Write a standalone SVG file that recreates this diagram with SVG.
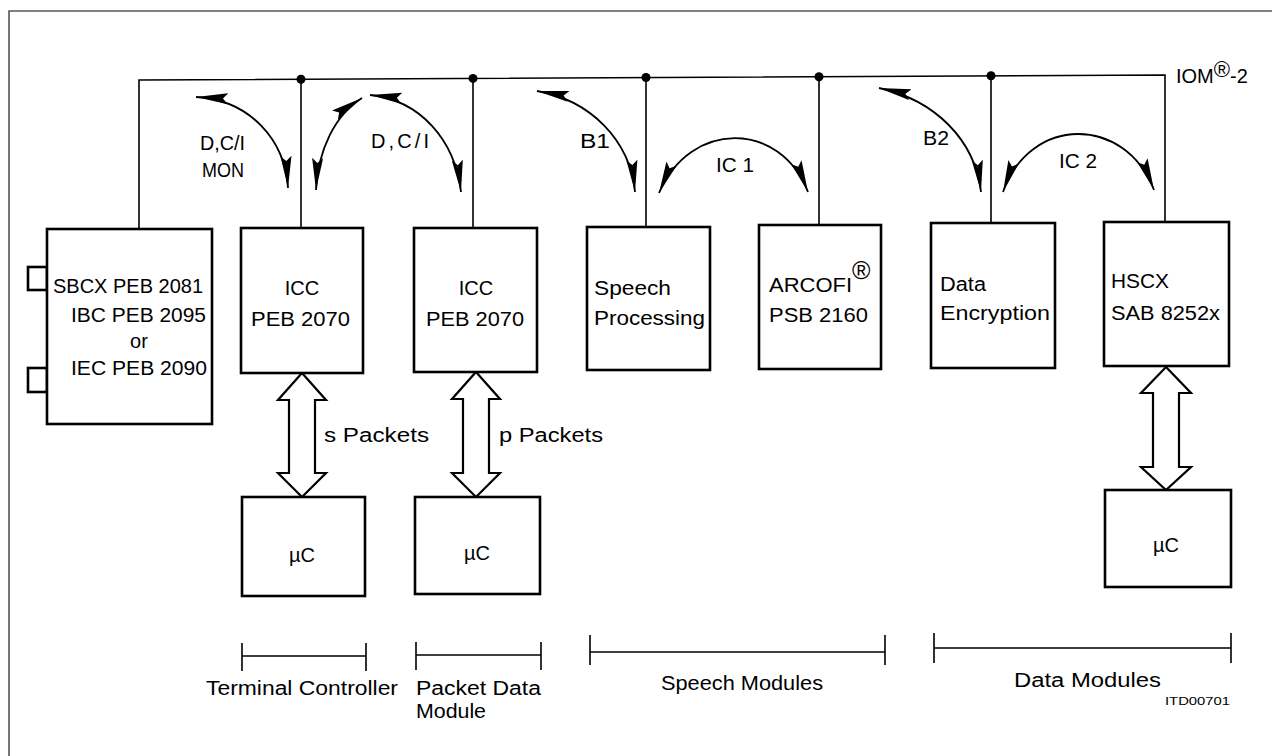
<svg xmlns="http://www.w3.org/2000/svg" width="1272" height="756" viewBox="0 0 1272 756">
<style>
.box{fill:#fff;stroke:#000;stroke-width:2.6}
.ln{fill:none;stroke:#000;stroke-width:1.6}
.arc{fill:none;stroke:#000;stroke-width:1.8;marker-start:url(#ah);marker-end:url(#ah)}
.hol{fill:#fff;stroke:#000;stroke-width:2.2;stroke-linejoin:miter}
.t{font-family:"Liberation Sans","DejaVu Sans",sans-serif;font-size:20px;fill:#000}
.s{font-family:"Liberation Sans","DejaVu Sans",sans-serif;font-size:11px;fill:#000}
.frame{fill:none;stroke:#555;stroke-width:1.6}
</style>
<defs>
<marker id="ah" markerUnits="userSpaceOnUse" viewBox="-32 -6 33 12" refX="0" refY="0" markerWidth="33" markerHeight="12" orient="auto-start-reverse">
<path d="M0,0 L-32,-5.5 L-27,0 L-32,5.5 Z" fill="#000"/>
</marker>
</defs>
<rect width="1272" height="756" fill="#fff"/>
<path class="frame" d="M9,756 V11 H1272"/>

<g id="connectors">
<path class="ln" d="M139,228 V80 L1165,75 V222"/>
<path class="ln" d="M301,79.2 V228 M473,78.4 V228 M646,77.5 V227 M819,76.7 V225 M991,75.8 V223"/>
<g fill="#000">
<circle cx="301" cy="79.2" r="4.5"/>
<circle cx="473" cy="78.4" r="4.5"/>
<circle cx="646" cy="77.5" r="4.5"/>
<circle cx="819" cy="76.7" r="4.5"/>
<circle cx="991" cy="75.8" r="4.5"/>
</g>
<path class="arc" d="M196,97 C250,100 285,140 288,188"/>
<path class="arc" d="M316,190 C318,150 335,115 362,98"/>
<path class="arc" d="M370,95 C420,100 455,140 461,192"/>
<path class="arc" d="M537,91 C590,100 630,140 635,192"/>
<path class="arc" d="M659,193 C690,120 780,120 808,192"/>
<path class="arc" d="M879,88 C935,100 975,140 981,192"/>
<path class="arc" d="M1003,192 C1030,115 1125,115 1154,190"/>
<polygon class="hol" points="302,373 326,400 315,400 315,473 326,473 302,497 278,473 289,473 289,400 278,400"/>
<polygon class="hol" points="476,372 500,399 489,399 489,473 500,473 476,497 452,473 463,473 463,399 452,399"/>
<polygon class="hol" points="1166,367 1191,393 1179,393 1179,467 1191,467 1166,490 1141,467 1153,467 1153,393 1141,393"/>
<text class="t" x="200" y="150" textLength="45" lengthAdjust="spacingAndGlyphs">D,C/I</text>
<text class="t" x="202" y="177" textLength="42" lengthAdjust="spacingAndGlyphs">MON</text>
<text class="t" x="371" y="148" textLength="58" lengthAdjust="spacing">D,C/I</text>
<text class="t" x="580" y="148" textLength="30" lengthAdjust="spacingAndGlyphs">B1</text>
<text class="t" x="716" y="172" textLength="38" lengthAdjust="spacingAndGlyphs">IC 1</text>
<text class="t" x="923" y="145" textLength="26" lengthAdjust="spacingAndGlyphs">B2</text>
<text class="t" x="1059" y="168" textLength="38" lengthAdjust="spacingAndGlyphs">IC 2</text>
<text class="t" x="324" y="442" textLength="105" lengthAdjust="spacingAndGlyphs">s Packets</text>
<text class="t" x="499" y="442" textLength="104" lengthAdjust="spacingAndGlyphs">p Packets</text>
<text class="t" x="1176" y="83">IOM<tspan font-size="22" dy="-6">®</tspan><tspan dy="6">-2</tspan></text>
</g>

<g id="sbcx">
<rect class="box" x="28" y="267" width="19" height="23"/>
<rect class="box" x="28" y="368" width="19" height="24"/>
<rect class="box" x="47" y="229" width="165" height="195"/>
<text class="t" x="53" y="293" textLength="150" lengthAdjust="spacingAndGlyphs">SBCX PEB 2081</text>
<text class="t" x="71" y="322" textLength="135" lengthAdjust="spacingAndGlyphs">IBC PEB 2095</text>
<text class="t" x="139" y="348" text-anchor="middle">or</text>
<text class="t" x="71" y="375" textLength="136" lengthAdjust="spacingAndGlyphs">IEC PEB 2090</text>
</g>
<g id="icc1">
<rect class="box" x="241" y="228" width="122" height="145"/>
<text class="t" x="302" y="295" text-anchor="middle">ICC</text>
<text class="t" x="251" y="326" textLength="99" lengthAdjust="spacingAndGlyphs">PEB 2070</text>
</g>
<g id="icc2">
<rect class="box" x="414" y="228" width="123" height="144"/>
<text class="t" x="476" y="295" text-anchor="middle">ICC</text>
<text class="t" x="426" y="326" textLength="98" lengthAdjust="spacingAndGlyphs">PEB 2070</text>
</g>
<g id="speech">
<rect class="box" x="587" y="227" width="123" height="143"/>
<text class="t" x="594" y="295" textLength="77" lengthAdjust="spacingAndGlyphs">Speech</text>
<text class="t" x="594" y="325" textLength="111" lengthAdjust="spacingAndGlyphs">Processing</text>
</g>
<g id="arcofi">
<rect class="box" x="759" y="225" width="122" height="144"/>
<text class="t" x="769" y="292"><tspan textLength="83" lengthAdjust="spacingAndGlyphs">ARCOFI</tspan><tspan font-size="25" dy="-13">®</tspan></text>
<text class="t" x="769" y="322" textLength="99" lengthAdjust="spacingAndGlyphs">PSB 2160</text>
</g>
<g id="dataenc">
<rect class="box" x="931" y="223" width="124" height="145"/>
<text class="t" x="940" y="291" textLength="46" lengthAdjust="spacingAndGlyphs">Data</text>
<text class="t" x="940" y="320" textLength="110" lengthAdjust="spacingAndGlyphs">Encryption</text>
</g>
<g id="hscx">
<rect class="box" x="1104" y="222" width="125" height="144"/>
<text class="t" x="1111" y="288" textLength="58" lengthAdjust="spacingAndGlyphs">HSCX</text>
<text class="t" x="1111" y="320" textLength="109" lengthAdjust="spacingAndGlyphs">SAB 8252x</text>
</g>
<g id="uc1">
<rect class="box" x="242" y="497" width="123" height="99"/>
<text class="t" x="302" y="562" text-anchor="middle">µC</text>
</g>
<g id="uc2">
<rect class="box" x="415" y="497" width="125" height="97"/>
<text class="t" x="477" y="560" text-anchor="middle">µC</text>
</g>
<g id="uc3">
<rect class="box" x="1105" y="490" width="126" height="97"/>
<text class="t" x="1166" y="552" text-anchor="middle">µC</text>
</g>

<g id="brackets">
<path class="ln" d="M242,643 V671 M242,656 H366 M366,643 V671"/>
<path class="ln" d="M416,642 V670 M416,655 H541 M541,642 V670"/>
<path class="ln" d="M590,635 V665 M590,652 H885 M885,635 V665"/>
<path class="ln" d="M934,633 V663 M934,648 H1231 M1231,633 V663"/>
<text class="t" x="206" y="695" textLength="192" lengthAdjust="spacingAndGlyphs">Terminal Controller</text>
<text class="t" x="416" y="695" textLength="125" lengthAdjust="spacingAndGlyphs">Packet Data</text>
<text class="t" x="416" y="718" textLength="70" lengthAdjust="spacingAndGlyphs">Module</text>
<text class="t" x="661" y="690" textLength="162" lengthAdjust="spacingAndGlyphs">Speech Modules</text>
<text class="t" x="1014" y="687" textLength="147" lengthAdjust="spacingAndGlyphs">Data Modules</text>
<text class="s" x="1165" y="705" textLength="65" lengthAdjust="spacingAndGlyphs">ITD00701</text>
</g>
</svg>
